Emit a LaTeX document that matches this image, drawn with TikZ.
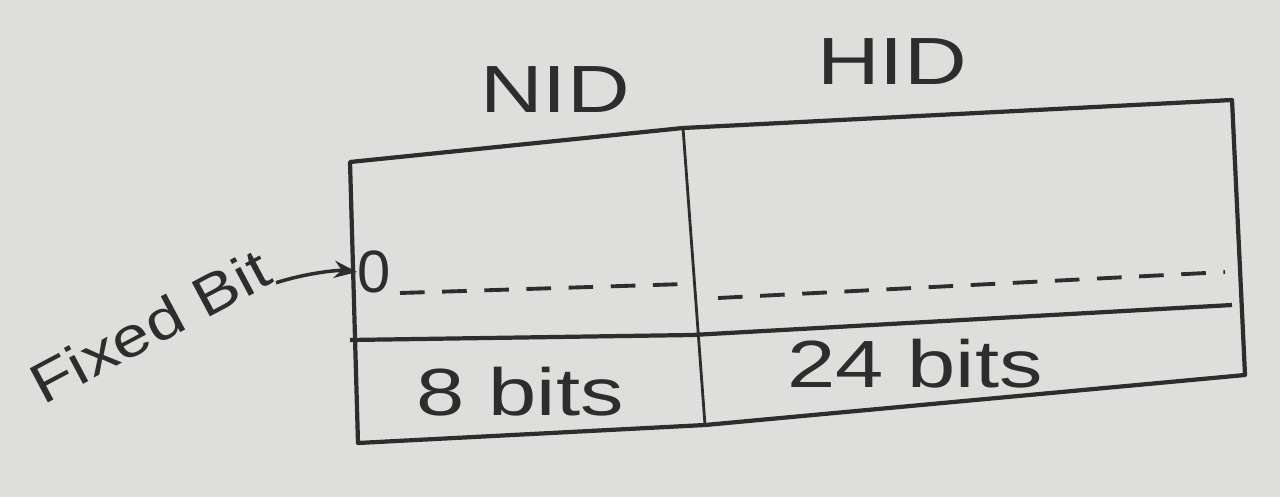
\documentclass[tikz,border=0pt]{standalone}
\usepackage{fontspec}
\setmainfont{Liberation Sans}
\usetikzlibrary{arrows.meta}
\definecolor{paper}{RGB}{222,222,220}
\definecolor{pencil}{RGB}{45,45,45}
\newcommand{\wide}[1]{\scalebox{1.3}[1]{#1}}
\begin{document}
\begin{tikzpicture}[x=0.02cm,y=-0.02cm,
  edge/.style={draw=pencil,line width=2.4pt,line join=round},
  thin/.style={draw=pencil,line width=1.6pt},
  dashline/.style={draw=pencil,line width=2.2pt,dash pattern=on 14pt off 10pt},
  lbl/.style={text=pencil,font=\fontsize{38}{44}\selectfont,inner sep=0pt}]
\fill[paper] (0,0) rectangle (1280,497);
\useasboundingbox (0,0) rectangle (1280,497);
% corners
\coordinate (tl) at (350,162);
\coordinate (tm) at (683,128);
\coordinate (tr) at (1232,100);
\coordinate (br) at (1245,375);
\coordinate (bm) at (705,425);
\coordinate (bl) at (358,443);
\coordinate (ml) at (350,340);
\coordinate (mm) at (692,335);
\coordinate (mr) at (1232,305);
\coordinate (dl1) at (400,293);
\coordinate (dl2) at (685,284);
\coordinate (dr1) at (718,298);
\coordinate (dr2) at (1225,272);
% outline
\path[edge] (tl) -- (tm) -- (tr) -- (br) -- (bm) -- (bl) -- cycle;
\path[thin] (tm) -- (bm);
\path[edge] (ml) -- (mm) -- (mr);
\path[dashline] (dl1) -- (dl2);
\path[dashline] (dr1) -- (dr2);
% labels
\node[lbl] (nid) at (555,90) {\wide{NID}};
\node[lbl] (hid) at (892,62) {\wide{HID}};
\node[lbl] (b8) at (520,392) {\wide{8 bits}};
\node[lbl] (b24) at (915,364) {\wide{24 bits}};
\node[lbl,font=\fontsize{34}{40}\selectfont] (zero) at (374,272) {0};
\node[lbl,rotate=28,font=\fontsize{32}{38}\selectfont] (fixed) at (150,326) {\scalebox{1.2}[1]{Fixed Bit}};
\draw[pencil,line width=2pt,-{Stealth[length=13pt]}] (fixed.south east)
  .. controls (310,272) and (340,270) .. (zero.west);
\end{tikzpicture}
\end{document}
